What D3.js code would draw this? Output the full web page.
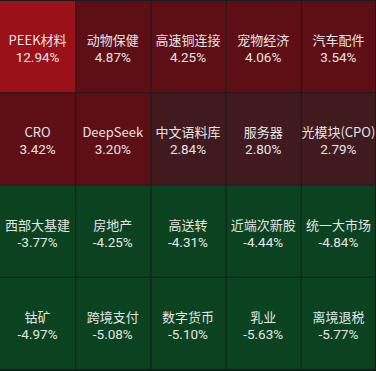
<!DOCTYPE html>
<html><head><meta charset="utf-8">
<script src="https://cdn.jsdelivr.net/npm/d3@7"></script>
<style>html,body{margin:0;padding:0;background:#fff;}svg{display:block;}</style>
</head><body>
<svg id="c" width="376" height="371"></svg>
<script>
const names = ["PEEK材料","动物保健","高速铜连接","宠物经济","汽车配件",
  "CRO","DeepSeek","中文语料库","服务器","光模块(CPO)",
  "西部大基建","房地产","高送转","近端次新股","统一大市场",
  "钴矿","跨境支付","数字货币","乳业","离境退税"];
const values = [12.94,4.87,4.25,4.06,3.54,
  3.42,3.20,2.84,2.80,2.79,
  -3.77,-4.25,-4.31,-4.44,-4.84,
  -4.97,-5.08,-5.10,-5.63,-5.77];
const nCols = 5, nRows = 4;
const W = 376, H = 370;
const svg = d3.select("#c");
svg.append("rect").attr("width",376).attr("height",371).attr("fill","#1a1a1a");
const x = d3.scaleBand().domain(d3.range(nCols)).range([0,W]).paddingInner(0);
const y = d3.scaleBand().domain(d3.range(nRows)).range([1,H]).paddingInner(0);
const color = d3.scaleThreshold().domain([-3,3,10])
  .range(["#0b4321","#401a1f","#5e0f15","#9c1119"]);
const data = names.map((n,i)=>({name:n,value:values[i],c:i%nCols,r:Math.floor(i/nCols)}));
const g = svg.selectAll("g.cell").data(data).enter().append("g")
  .attr("transform",d=>`translate(${x(d.c)},${y(d.r)})`);
g.append("rect")
  .attr("x",d=>d.c===0?0:1).attr("y",0)
  .attr("width",d=>x.bandwidth()-(d.c===0?0:1)-(d.c===nCols-1?1:0))
  .attr("height",y.bandwidth()-1)
  .attr("fill",d=>color(d.value));
const nameFont = "'Noto Sans CJK SC',sans-serif";
const valFont = "Roboto,'Liberation Sans',sans-serif";
g.append("text").attr("x",x.bandwidth()/2).attr("y",y.bandwidth()/2-2)
  .attr("text-anchor","middle").attr("font-family",nameFont).attr("font-size",13)
  .attr("fill","#e4e4e4").text(d=>d.name);
g.append("text").attr("x",x.bandwidth()/2).attr("y",y.bandwidth()/2+15)
  .attr("text-anchor","middle").attr("font-family",valFont).attr("font-size",13.5)
  .attr("fill","#e4e4e4").text(d=>d.value.toFixed(2)+"%");
</script>
</body></html>
